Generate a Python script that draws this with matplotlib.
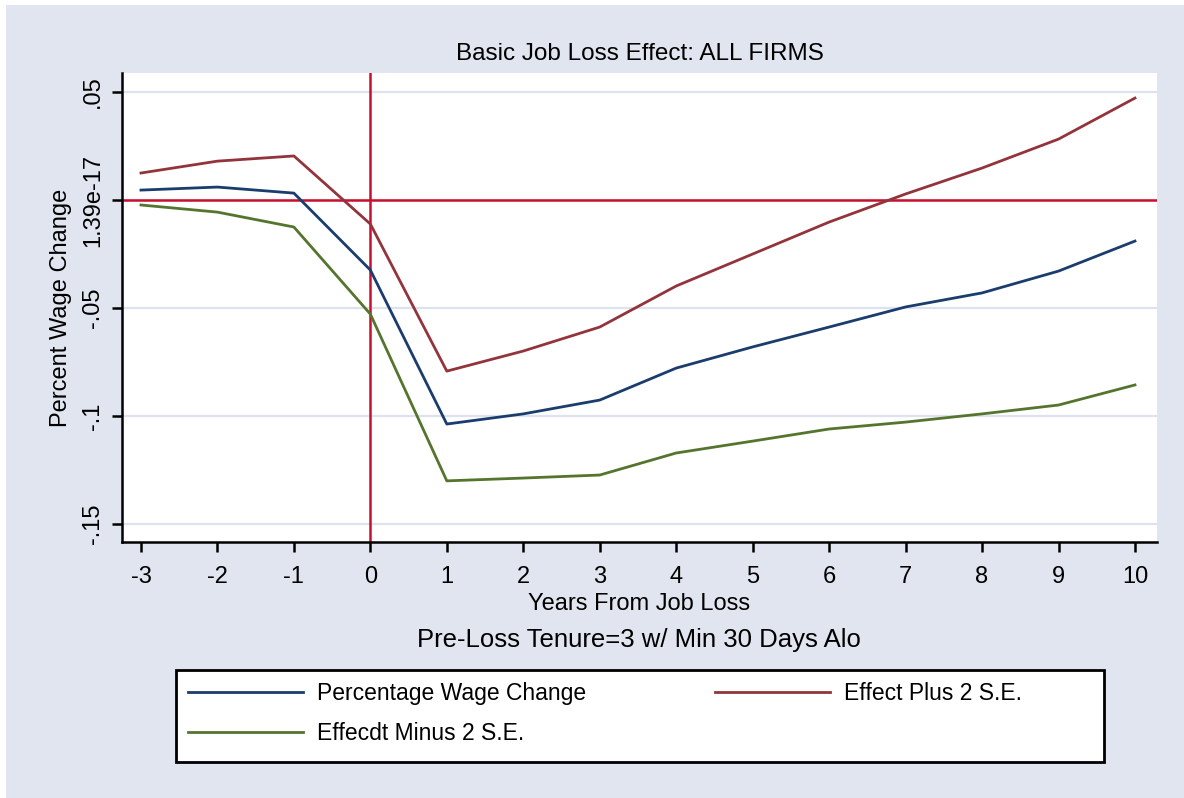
import matplotlib
matplotlib.use("Agg")
import matplotlib.pyplot as plt
from matplotlib.patches import Rectangle

plt.rcParams['font.family'] = ['Liberation Sans', 'DejaVu Sans']

years = [-3, -2, -1, 0, 1, 2, 3, 4, 5, 6, 7, 8, 9, 10]
wage_change = [0.0046, 0.0060, 0.0032, -0.0324, -0.1037, -0.0990, -0.0926,
               -0.0778, -0.0680, -0.0588, -0.0495, -0.0430, -0.0329, -0.0190]
plus_2se = [0.0125, 0.0180, 0.0204, -0.0111, -0.0792, -0.0699, -0.0588,
            -0.0398, -0.0250, -0.0102, 0.0028, 0.0148, 0.0282, 0.0472]
minus_2se = [-0.0023, -0.0056, -0.0125, -0.0528, -0.1300, -0.1287, -0.1273,
             -0.1171, -0.1116, -0.1060, -0.1028, -0.0990, -0.0949, -0.0856]
ytick_vals = [-0.15, -0.1, -0.05, 0, 0.05]
ytick_labels = ['-.15', '-.1', '-.05', '1.39e-17', '.05']

W, H = 1184, 798
bg = '#E1E5EF'
fig = plt.figure(figsize=(W/100, H/100), dpi=100, facecolor='white')
fig.patches.append(Rectangle((6/W, 0), 1, 1 - 5/H, transform=fig.transFigure,
                             facecolor=bg, edgecolor='none', zorder=-10))

ax = fig.add_axes([122/W, 1 - 542/H, (1157-122)/W, (542-73)/H])
ax.set_facecolor('white')

for v in ytick_vals:
    ax.axhline(v, color='#DDE3EE', lw=1.6, zorder=0)

ax.axhline(0, color='#C8102E', lw=1.8, zorder=1)
ax.axvline(0, color='#C8102E', lw=1.8, zorder=1)

l1, = ax.plot(years, wage_change, color='#1A3D6E', lw=2, label='Percentage Wage Change')
l2, = ax.plot(years, plus_2se, color='#93343C', lw=2, label='Effect Plus 2 S.E.')
l3, = ax.plot(years, minus_2se, color='#55752F', lw=2, label='Effecdt Minus 2 S.E.')

ax.set_xlim(-3.248, 10.288)
ax.set_ylim(-0.1583, 0.0588)
ax.set_xticks(years)
ax.set_xticklabels([str(y) for y in years])
ax.set_yticks(ytick_vals)
ax.set_yticklabels(ytick_labels, rotation=90, va='center')

for s in ['top', 'right']:
    ax.spines[s].set_visible(False)
for s in ['left', 'bottom']:
    ax.spines[s].set_linewidth(1.8)
ax.tick_params(axis='both', length=7, width=1.8, labelsize=17)
ax.tick_params(axis='x', pad=10)
ax.tick_params(axis='y', pad=6)

ax.set_title('Basic Job Loss Effect: ALL FIRMS', fontsize=17.5, pad=9)
ax.set_xlabel('Years From Job Loss', fontsize=17, labelpad=4)
ax.set_ylabel('Percent Wage Change', fontsize=17, labelpad=7)
fig.text(639/W, 1 - 640/H, 'Pre-Loss Tenure=3 w/ Min 30 Days Alo',
         fontsize=18.5, ha='center', va='center')

# legend frame drawn separately so the box can match the original size
fig.patches.append(Rectangle((176/W, 1 - 762/H), 928/W, 92/H, transform=fig.transFigure,
                             facecolor='white', edgecolor='black', lw=2, zorder=5))
leg = fig.legend([l1, l3, l2], [l1.get_label(), l3.get_label(), l2.get_label()],
                 loc='upper left', bbox_to_anchor=(188/W, 1 - 682/H),
                 ncol=2, fontsize=16.5, handlelength=5.0, handletextpad=0.65,
                 columnspacing=5.6, borderaxespad=0, borderpad=0,
                 labelspacing=0.75, frameon=False)
leg.set_zorder(6)

fig.savefig('out.png', dpi=100, facecolor=fig.get_facecolor())
